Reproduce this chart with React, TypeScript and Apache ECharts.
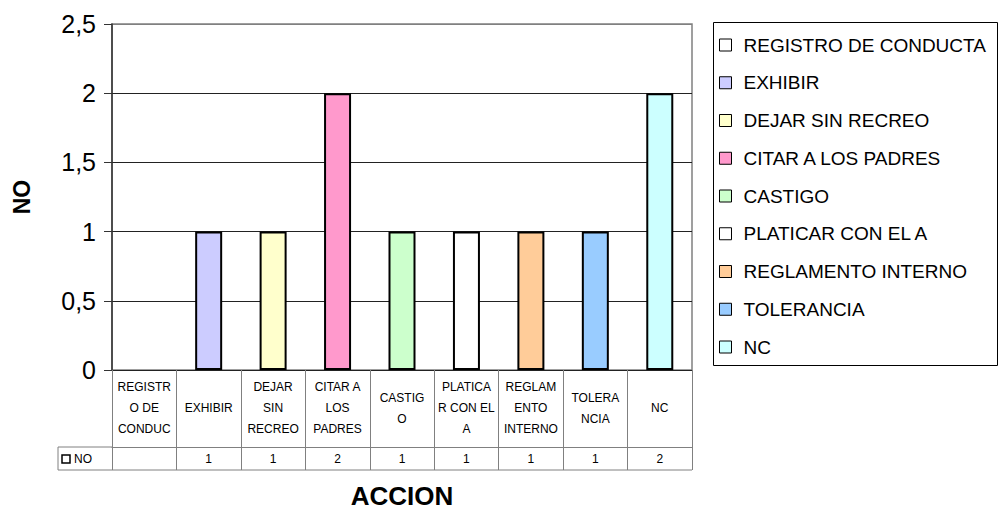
import React, { useEffect, useRef } from "react";
import * as echarts from "echarts";

const categories = [
  "REGISTRO DE CONDUCTA",
  "EXHIBIR",
  "DEJAR SIN RECREO",
  "CITAR A LOS PADRES",
  "CASTIGO",
  "PLATICAR CON EL A",
  "REGLAMENTO INTERNO",
  "TOLERANCIA",
  "NC",
];
const tableLabels = [
  "REGISTR\nO DE\nCONDUC",
  "EXHIBIR",
  "DEJAR\nSIN\nRECREO",
  "CITAR A\nLOS\nPADRES",
  "CASTIG\nO",
  "PLATICA\nR CON EL\nA",
  "REGLAM\nENTO\nINTERNO",
  "TOLERA\nNCIA",
  "NC",
];
const values: (number | null)[] = [null, 1, 1, 2, 1, 1, 1, 1, 2];
const colors = [
  "#FFFFFF",
  "#CCCCFF",
  "#FFFFCC",
  "#FF99CC",
  "#CCFFCC",
  "#FFFFFF",
  "#FFCC99",
  "#99CCFF",
  "#CCFFFF",
];
const seriesName = "NO";
const yTicks = { min: 0, max: 2.5, interval: 0.5 };

const FONT = "Liberation Sans, Arial, sans-serif";

export default function App() {
  const ref = useRef<HTMLDivElement>(null);
  useEffect(() => {
    if (!ref.current) return;
    const chart = echarts.init(ref.current, undefined, { renderer: "svg" });
    const series = categories.map((name, i) => ({
      name,
      type: "bar",
      stack: "all",
      barWidth: 27,
      data: values.map((v, j) => (j === i ? v : null)),
      itemStyle: { color: colors[i], borderColor: "#000", borderWidth: 2 },
      xAxisIndex: 0,
      yAxisIndex: 0,
    }));
    chart.setOption({
      animation: false,
      textStyle: { fontFamily: FONT },
      grid: {
        left: 112,
        top: 24,
        right: 307,
        bottom: 142,
        containLabel: false,
        outerBoundsMode: "none",
        show: true,
        borderColor: "#808080",
        borderWidth: 1.5,
        backgroundColor: "transparent",
      },
      legend: {
        orient: "vertical",
        left: 719,
        top: 35,
        padding: 0,
        itemWidth: 12,
        itemHeight: 12,
        itemGap: 17.75,
        icon: "rect",
        itemStyle: { borderColor: "#000", borderWidth: 1 },
        textStyle: {
          fontFamily: FONT,
          fontSize: 19,
          color: "#000",
          lineHeight: 20,
          padding: [0, 0, 0, 7],
        },
        data: categories,
      },
      xAxis: [
        {
          type: "category",
          data: tableLabels,
          position: "bottom",
          axisLine: { show: true, lineStyle: { color: "#222", width: 1 } },
          axisTick: {
            show: true,
            length: 77,
            lineStyle: { color: "#808080", width: 1 },
          },
          axisLabel: {
            interval: 0,
            margin: 38,
            verticalAlign: "middle",
            fontSize: 12,
            lineHeight: 21,
            color: "#000",
            fontFamily: FONT,
          },
        },
        {
          type: "category",
          data: values.map((v) => (v == null ? "" : String(v))),
          position: "bottom",
          offset: 77,
          axisLine: { show: true, lineStyle: { color: "#808080", width: 1 } },
          axisTick: {
            show: true,
            length: 23,
            lineStyle: { color: "#808080", width: 1 },
          },
          axisLabel: {
            interval: 0,
            margin: 12,
            verticalAlign: "middle",
            fontSize: 12,
            color: "#000",
            fontFamily: FONT,
          },
          name: "ACCION",
          nameLocation: "middle",
          nameGap: 36,
          nameTextStyle: {
            fontSize: 26,
            fontWeight: "bold",
            color: "#000",
            fontFamily: FONT,
          },
        },
      ],
      yAxis: {
        type: "value",
        min: yTicks.min,
        max: yTicks.max,
        interval: yTicks.interval,
        axisLine: { show: true, lineStyle: { color: "#333", width: 1.5 } },
        axisTick: { show: true, length: 8, lineStyle: { color: "#333" } },
        axisLabel: {
          margin: 16,
          fontSize: 25,
          color: "#000",
          fontFamily: FONT,
          formatter: (v: number) => String(v).replace(".", ","),
        },
        splitLine: {
          show: true,
          lineStyle: {
            color: ["#222", "#222", "#222", "#222", "#222", "#808080"],
            width: 1,
          },
        },
        name: seriesName,
        nameLocation: "middle",
        nameGap: 79,
        nameTextStyle: {
          fontSize: 23,
          fontWeight: "bold",
          color: "#000",
          fontFamily: FONT,
        },
      },
      series,
      graphic: [
        {
          type: "rect",
          shape: { x: 713.5, y: 22.5, width: 284, height: 343 },
          style: { fill: "none", stroke: "#000", lineWidth: 1 },
          silent: true,
        },
        {
          type: "line",
          shape: { x1: 58, y1: 447, x2: 112, y2: 447 },
          style: { stroke: "#808080", lineWidth: 1 },
        },
        {
          type: "line",
          shape: { x1: 58, y1: 470, x2: 692, y2: 470 },
          style: { stroke: "#808080", lineWidth: 1 },
        },
        {
          type: "line",
          shape: { x1: 58, y1: 447, x2: 58, y2: 470 },
          style: { stroke: "#808080", lineWidth: 1 },
        },
        {
          type: "rect",
          shape: { x: 62, y: 455, width: 8, height: 8 },
          style: { fill: "#fff", stroke: "#000", lineWidth: 1.5 },
        },
        {
          type: "text",
          x: 74,
          y: 459,
          style: {
            text: seriesName,
            fontSize: 12,
            fontFamily: FONT,
            fill: "#000",
            verticalAlign: "middle",
          },
        },
      ],
    });
    return () => chart.dispose();
  }, []);
  return (
    <div
      ref={ref}
      style={{ position: "absolute", left: 0, top: 0, width: 999, height: 512 }}
    />
  );
}
